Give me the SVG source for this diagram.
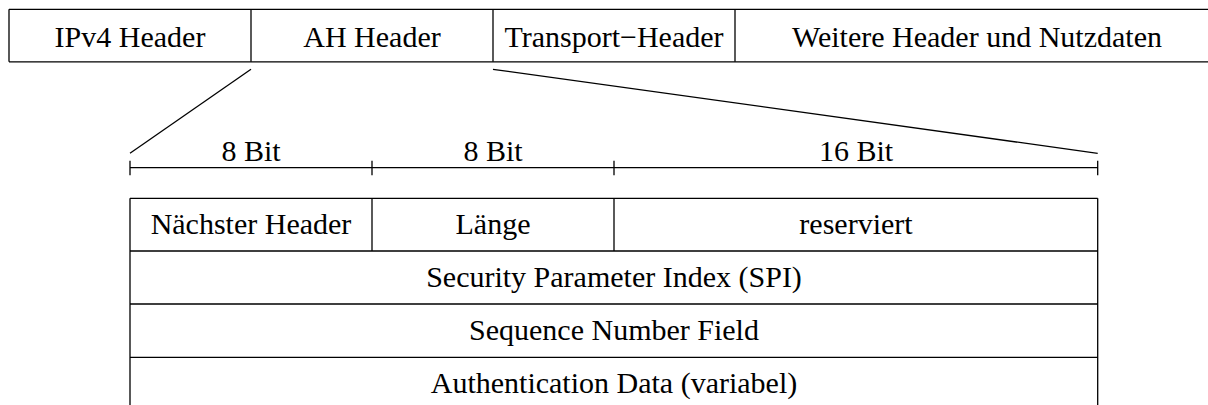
<svg xmlns="http://www.w3.org/2000/svg" width="1208" height="405" viewBox="0 0 1208 405">
  <style>
    .ln { stroke: #000; stroke-width: 1.3; fill: none; }
    .tx { font-family: "Liberation Serif", "Times New Roman", serif; font-size: 30px; fill: #000; text-anchor: middle; }
  </style>
  <rect width="1208" height="405" fill="#fff"/>

  <!-- Packet layout bar (runs off the right edge) -->
  <g id="packet">
    <path class="ln" d="M9,9.3 H1212 M9,61.8 H1212 M9,9.3 V61.8"/>
    <g id="ipv4">
      <text class="tx" x="130" y="47">IPv4 Header</text>
    </g>
    <g id="ah">
      <path class="ln" d="M251,9.3 V61.8"/>
      <text class="tx" x="372" y="47">AH Header</text>
    </g>
    <g id="transport">
      <path class="ln" d="M493,9.3 V61.8"/>
      <text class="tx" x="614" y="47">Transport−Header</text>
    </g>
    <g id="payload">
      <path class="ln" d="M735,9.3 V61.8"/>
      <text class="tx" x="977" y="47">Weitere Header und Nutzdaten</text>
    </g>
  </g>

  <!-- Expansion lines from the AH header to its detailed layout -->
  <g id="connectors">
    <path class="ln" d="M251,69.3 L130,153.3"/>
    <path class="ln" d="M493,69.3 L1097.7,153.3"/>
  </g>

  <!-- Bit-width scale -->
  <g id="scale">
    <path class="ln" d="M130,167.7 H1097.7 M130,160.7 V175.3 M372,160.7 V175.3 M614,160.7 V175.3 M1097.7,160.7 V175.3"/>
    <text class="tx" x="251" y="161">8 Bit</text>
    <text class="tx" x="493" y="161">8 Bit</text>
    <text class="tx" x="856" y="161">16 Bit</text>
  </g>

  <!-- AH header fields -->
  <g id="ah-fields">
    <path class="ln" d="M130,198.3 H1097.7 M130,251 H1097.7 M130,304 H1097.7 M130,357.3 H1097.7 M130,198.3 V410 M1097.7,198.3 V410"/>
    <g id="next-header">
      <text class="tx" x="251" y="233.5">Nächster Header</text>
    </g>
    <g id="length">
      <path class="ln" d="M372,198.3 V251"/>
      <text class="tx" x="493" y="233.5">Länge</text>
    </g>
    <g id="reserved">
      <path class="ln" d="M614,198.3 V251"/>
      <text class="tx" x="856" y="233.5">reserviert</text>
    </g>
    <g id="spi">
      <text class="tx" x="614" y="286.5">Security Parameter Index (SPI)</text>
    </g>
    <g id="seq">
      <text class="tx" x="614" y="339.5">Sequence Number Field</text>
    </g>
    <g id="auth">
      <text class="tx" x="614" y="392.5">Authentication Data (variabel)</text>
    </g>
  </g>
</svg>
